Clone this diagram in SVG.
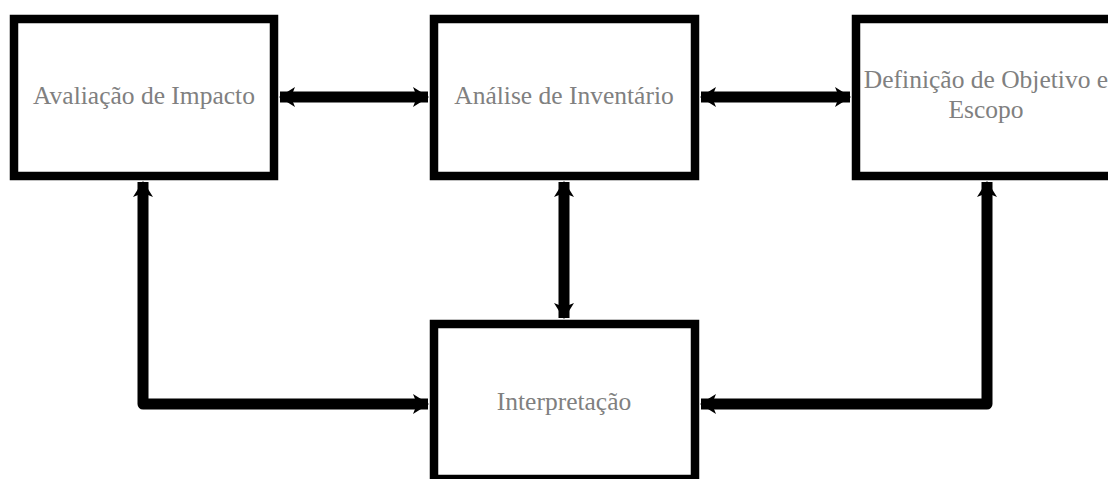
<svg xmlns="http://www.w3.org/2000/svg" width="1108" height="479" viewBox="0 0 1108 479">
<style>
.box{fill:#fff;stroke:#000;stroke-width:8.5}
.lbl{font-family:"Liberation Serif","Times New Roman",serif;font-size:25.5px;fill:#808080;text-anchor:middle}
.con{fill:none;stroke:#000;stroke-width:11;stroke-linejoin:round;marker-start:url(#ah);marker-end:url(#ah)}
</style>
<defs>
<marker id="ah" viewBox="0 0 16 20" refX="15" refY="10" markerWidth="16" markerHeight="20" markerUnits="userSpaceOnUse" orient="auto-start-reverse">
<path d="M0,0 L16,10 L0,20 L4,10 z" fill="#000"/>
</marker>
</defs>
<rect width="1108" height="479" fill="#fff"/>
<g id="connectors">
<path class="con" d="M280,97 H428"/>
<path class="con" d="M701,97 H850"/>
<path class="con" d="M564,182 V318"/>
<path class="con" d="M143,182 V404 H428"/>
<path class="con" d="M987,182 V404 H701"/>
</g>
<g id="n-avaliacao">
<rect class="box" x="14" y="19" width="260" height="157"/>
<text class="lbl" x="144" y="104">Avaliação de Impacto</text>
</g>
<g id="n-analise">
<rect class="box" x="434" y="19" width="261" height="157"/>
<text class="lbl" x="564" y="104">Análise de Inventário</text>
</g>
<g id="n-definicao">
<rect class="box" x="856" y="19" width="261" height="157"/>
<text class="lbl" x="986" y="88">Definição de Objetivo e</text>
<text class="lbl" x="986" y="118">Escopo</text>
</g>
<g id="n-interpretacao">
<rect class="box" x="434" y="324" width="261" height="155"/>
<text class="lbl" x="564" y="410">Interpretação</text>
</g>
</svg>
